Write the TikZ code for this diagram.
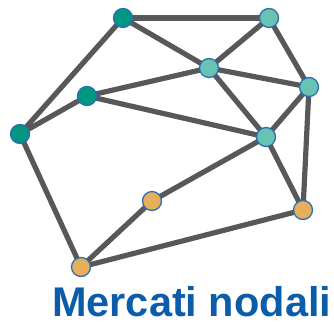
\documentclass[tikz,border=0pt]{standalone}
\usepackage{fontspec}
\usepackage{tikz}
\usetikzlibrary{backgrounds}
\newfontfamily\mercfont{Liberation Sans}
\definecolor{NetEdge}{HTML}{585858}
\definecolor{NetRim}{HTML}{2C6DB4}
\definecolor{NetDark}{HTML}{00967F}
\definecolor{NetLight}{HTML}{68C3B3}
\definecolor{NetGold}{HTML}{E7AE5B}
\definecolor{NetBlue}{HTML}{0B5DAA}

\begin{document}
\begin{tikzpicture}[x=1pt,y=-1pt,
  hub/.style={circle,draw=NetRim,line width=1.3pt,minimum size=19pt,inner sep=0pt},
  link/.style={NetEdge,line width=5.2pt}]
\useasboundingbox (0,0) rectangle (334,321);
% nodes of the network
\node[hub,fill=NetDark]  (a) at (123,18)  {};
\node[hub,fill=NetLight] (b) at (269,18)  {};
\node[hub,fill=NetLight] (c) at (209,68)  {};
\node[hub,fill=NetLight] (d) at (309,87)  {};
\node[hub,fill=NetDark]  (e) at (87,96)   {};
\node[hub,fill=NetDark]  (f) at (20,134)  {};
\node[hub,fill=NetLight] (g) at (266,137) {};
\node[hub,fill=NetGold]  (h) at (152,201) {};
\node[hub,fill=NetGold]  (i) at (303,210) {};
\node[hub,fill=NetGold]  (j) at (81,267)  {};
% links, behind the nodes
\begin{scope}[on background layer]
\draw[link] (a.center)--(b.center);
\draw[link] (a.center)--(c.center);
\draw[link] (a.center)--(f.center);
\draw[link] (b.center)--(c.center);
\draw[link] (b.center)--(d.center);
\draw[link] (c.center)--(d.center);
\draw[link] (c.center)--(e.center);
\draw[link] (c.center)--(g.center);
\draw[link] (e.center)--(f.center);
\draw[link] (e.center)--(g.center);
\draw[link] (d.center)--(g.center);
\draw[link] (d.center)--(i.center);
\draw[link] (g.center)--(i.center);
\draw[link] (g.center)--(h.center);
\draw[link] (h.center)--(j.center);
\draw[link] (j.center)--(i.center);
\draw[link] (f.center)--(j.center);
\end{scope}
\node[anchor=base west,inner sep=0pt,text=NetBlue,font=\mercfont\bfseries\fontsize{41.5}{46}\selectfont] (title) at (52,316) {Mercati nodali};
\end{tikzpicture}
\end{document}
